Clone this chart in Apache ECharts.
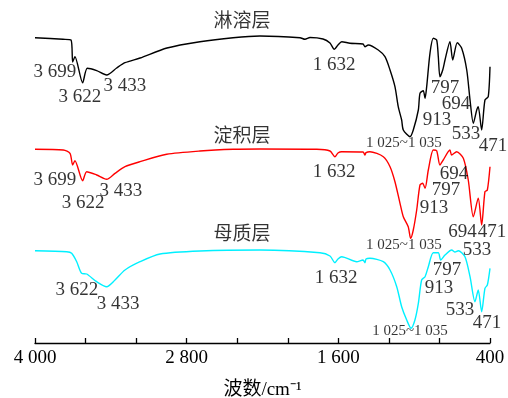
<!DOCTYPE html>
<html>
<head>
<meta charset="utf-8">
<script src="https://cdn.jsdelivr.net/npm/echarts@6/dist/echarts.min.js"></script>
<style>html,body{margin:0;padding:0;background:#fff}#c{width:508px;height:398px}</style>
</head>
<body>
<div id="c"></div>
<script>
// Wavenumber ticks (cm-1) and labels
const xTicks = [4000, 2800, 1600, 400];
const seriesNames = ['淋溶层', '淀积层', '母质层'];
const seriesColors = ['#000000', '#ff0000', '#00f0ff'];

// Spectra: [wavenumber, relative transmittance (offset, a.u.)]
const leached = [
[4000,305.3],[3778,303.7],[3715,303],[3702,281],[3684,286.3],[3623,260.3],[3586,274.7],[3512,272.3],
[3433,268],[3354,275],[3288,280.3],[3169,285],[2956,295],[2695,301.3],[2433,305.3],[2220,307],
[1903,305.3],[1864,303.7],[1824,305.5],[1721,304],[1666,300],[1632,293.7],[1603,298],[1573,301.3],
[1508,299.7],[1405,299],[1389,296.3],[1363,298],[1284,293],[1231,286.3],[1191,273],[1152,256.3],
[1126,236.3],[1099,223],[1086,213],[1033,206.3],[1007,213],[967,233],[954,249.7],[928,252.3],
[914,244.7],[901,256.3],[875,289.7],[849,304.7],[822,303],[809,286.3],[796,266.3],[774,273],
[756,283],[717,301.3],[695,283],[659,300.3],[624,294.7],[584,273],[558,243],[532,219.7],
[505,233],[493,236.3],[466,213],[440,243],[414,246.3],[400,276.3]
];
const illuvial = [
[4000,193.7],[3776,193],[3723,189.7],[3702,178],[3684,182.3],[3623,162.3],[3591,171.3],[3512,168],
[3433,163.7],[3367,169.7],[3288,176.3],[3169,181.3],[2958,188.7],[2695,192],[2431,193.7],[2220,194],
[1771,193.7],[1666,192],[1627,186.3],[1603,190],[1573,191.3],[1405,191],[1389,188],[1381,190.3],
[1350,191.3],[1244,186.3],[1191,176.3],[1152,161.3],[1112,139.7],[1086,126.3],[1047,116.3],[1028,104.7],
[1007,113],[980,133],[954,158],[933,159.7],[914,154.7],[888,173],[849,193],[822,192.3],
[796,178],[770,183],[717,193],[704,188],[664,191.3],[611,184.7],[572,163],[532,126.3],
[493,144.7],[466,118],[440,151.3],[421,153],[400,176.3]
];
const parent = [
[4000,92.3],[3749,91.3],[3710,89.7],[3670,81.3],[3631,69.7],[3591,69],[3512,61.3],[3433,56.3],
[3367,63],[3288,73],[3169,81.3],[3011,89],[2695,92],[2220,93],[1745,90.3],[1666,87],
[1627,80.3],[1603,84],[1573,86.3],[1455,81.3],[1405,83],[1389,80.3],[1381,84],[1350,84.7],
[1244,81.3],[1191,73],[1138,56.3],[1099,36.3],[1059,23],[1025,14.7],[994,23],[967,39.7],
[941,63],[914,66.3],[888,76.3],[849,90.3],[809,90.3],[790,83],[756,88],[703,93],
[677,91],[651,92.3],[598,86.3],[558,66.3],[519,41.3],[493,53],[466,31.3],[440,54.7],
[421,58],[400,74.7]
];

// Peak annotations: [wavenumber, level, text]
const layerTitles = [[2362,321,'淋溶层'],[2362,206,'淀积层'],[2362,108,'母质层']];
const peakLabels = [
[3842,271,'3 699'],[3644,246,'3 622'],[3288,257,'3 433'],[1634,278,'1 632'],
[756,255,'797'],[669,239,'694'],[819,223,'913'],[590,209,'533'],[376,197,'471'],
[3842,163,'3 699'],[3620,140,'3 622'],[3320,152,'3 433'],[1634,171,'1 632'],
[685,169,'694'],[748,153,'797'],[843,135,'913'],[618,111,'694'],[384,111,'471'],[503,93,'533'],
[3668,53,'3 622'],[3343,39,'3 433'],[1618,65,'1 632'],[740,73,'797'],[804,55,'913'],
[637,33,'533'],[424,20,'471']
];
const rangeLabels = [[1081,200,'1 025~1 035'],[1081,98,'1 025~1 035'],[1033,12,'1 025~1 035']];

const serif = '"Liberation Serif", "Times New Roman", "Noto Sans CJK SC", serif';
const chart = echarts.init(document.getElementById('c'));
function curve(name, data, color) {
  return {name, type:'line', data, showSymbol:false, symbol:'none', smooth:0.25,
    lineStyle:{color, width:1.4}, animation:false, z:2};
}
function textSeries(data, size) {
  return {type:'scatter', data, symbolSize:0, clip:false, animation:false, silent:true, z:5,
    label:{show:true, position:'inside', formatter:p=>p.data[2], color:'#000',
      textBorderWidth:0, textShadowBlur:0, fontFamily:serif, fontSize:size}};
}
chart.setOption({
  animation:false,
  grid:{left:35, right:18, top:0, bottom:55, containLabel:false, outerBoundsMode:'none'},
  xAxis:{type:'value', min:400, max:4000, interval:400, inverse:true,
    axisLine:{lineStyle:{color:'#000', width:1.3}},
    axisTick:{inside:true, length:5, lineStyle:{color:'#000', width:1.3}},
    splitLine:{show:false},
    axisLabel:{margin:6, color:'#000', fontFamily:serif, fontSize:19,
      formatter:v=> xTicks.includes(v) ? (v>=1000 ? Math.floor(v/1000)+' '+String(v%1000).padStart(3,'0') : String(v)) : ''},
    name:'波数/cm⁻¹', nameLocation:'middle', nameGap:38,
    nameTextStyle:{color:'#000', fontFamily:serif, fontSize:19}},
  yAxis:{type:'value', min:0, max:343, show:false},
  series:[
    curve(seriesNames[0], leached, seriesColors[0]),
    curve(seriesNames[1], illuvial, seriesColors[1]),
    curve(seriesNames[2], parent, seriesColors[2]),
    textSeries(layerTitles, 19),
    textSeries(peakLabels, 19),
    textSeries(rangeLabels, 15)
  ]
});
</script>
</body>
</html>
